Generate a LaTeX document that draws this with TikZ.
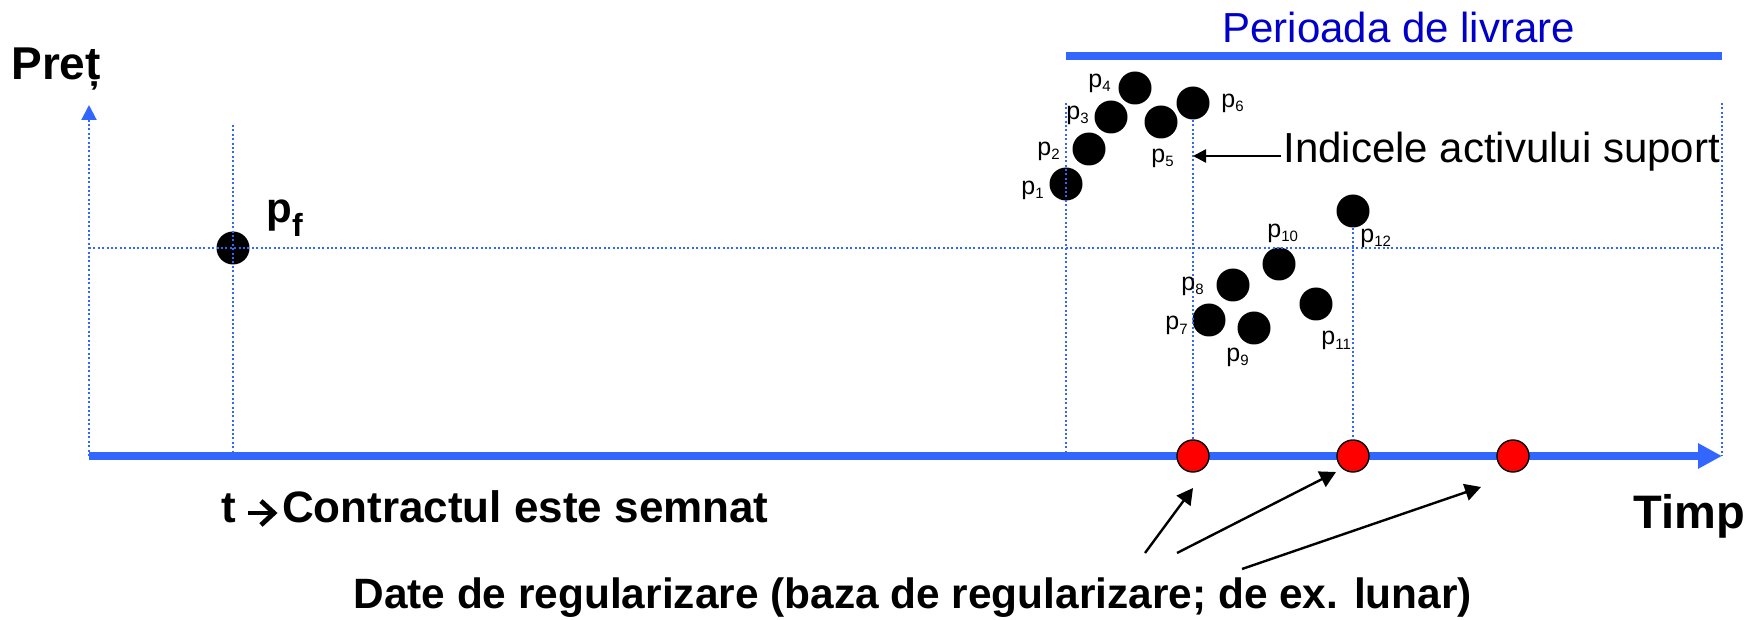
\documentclass[tikz,border=0pt]{standalone}
\usepackage{fontspec}
\setmainfont{Liberation Sans}
\usepackage{xcolor}
\usepackage{tikz}
\usetikzlibrary{arrows.meta,positioning,calc}
\definecolor{axisblue}{RGB}{51,102,255}
\definecolor{titleblue}{RGB}{0,0,200}
\newcommand{\plab}[1]{p\raisebox{-2pt}{\fontsize{7.5}{8}\selectfont #1}}

\begin{document}
\begin{tikzpicture}[x=0.5pt,y=-0.5pt,
    dot/.style={circle,fill=black,inner sep=0pt,minimum size=16.5pt},
    reddot/.style={circle,fill=red,draw=black,line width=0.7pt,inner sep=0pt,minimum size=16pt},
    grid/.style={axisblue,line width=1pt,dash pattern=on 1pt off 1.2pt},
    lab/.style={anchor=base west,inner sep=0pt,font=\fontsize{12.5}{15}\selectfont},
    txt/.style={anchor=base west,inner sep=0pt,font=\fontsize{21}{25}\selectfont},
    big/.style={txt,font=\fontsize{21}{25}\selectfont\bfseries},
    pointer/.style={-{Triangle[length=8pt,width=8.5pt]},line width=1.2pt}]
    \useasboundingbox (0,0) rectangle (1747,620);

    % axes
    \coordinate (O) at (89,456);
    \coordinate (E) at (1722,456);
    \coordinate (Y) at (89,105);
    \draw[axisblue,line width=4pt,-{Triangle[length=12pt,width=12pt]}] (O) -- (E);
    \draw[grid,-{Triangle[length=7.5pt,width=7.5pt]}] (O) -- (Y);
    \node[big,font=\fontsize{23}{28}\selectfont\bfseries] (pret) at (11,80) {Preț};
    \node[txt,font=\fontsize{23.5}{28}\selectfont\bfseries] (timp) at (1633,528) {Timp};

    % delivery period
    \coordinate (L0) at (1066,56);
    \coordinate (L1) at (1722,56);
    \draw[axisblue,line width=4pt] (L0) -- (L1);
    \node[txt,text=titleblue] (per) at (1222,43) {Perioada de livrare};

    % prices
    \node[dot] (pf) at (233,248) {};
    \node[dot] (p1) at (1066,184) {};
    \node[dot] (p2) at (1089,149) {};
    \node[dot] (p3) at (1111,117) {};
    \node[dot] (p4) at (1135,88) {};
    \node[dot] (p5) at (1161,122) {};
    \node[dot] (p6) at (1193,103) {};
    \node[dot] (p7) at (1209,320) {};
    \node[dot] (p8) at (1233,285) {};
    \node[dot] (p9) at (1254,328) {};
    \node[dot] (p10) at (1279,264) {};
    \node[dot] (p11) at (1316,304) {};
    \node[dot] (p12) at (1353,211) {};

    % settlement dates
    \node[reddot] (r1) at (p6 |- O) {};
    \node[reddot] (r2) at (p12 |- O) {};
    \node[reddot] (r3) at (1513,456) {};

    % grid
    \draw[grid] (O |- pf) -- (E |- pf);
    \draw[grid] (233,125) -- (pf |- O);
    \draw[grid] (p1 |- p6) -- (p1 |- O);
    \draw[grid] (p6) -- (r1);
    \draw[grid] (p12) -- (r2);
    \draw[grid] (E |- p6) -- (E);

    % labels
    \node[big] (lf) at (266,223) {p\raisebox{-6.7pt}{\fontsize{16}{16}\selectfont\bfseries f}};
    \node[lab] (l1) at (1021,195) {\plab{1}};
    \node[lab] (l2) at (1037,156) {\plab{2}};
    \node[lab] (l3) at (1066,120) {\plab{3}};
    \node[lab] (l4) at (1088,88) {\plab{4}};
    \node[lab] (l5) at (1151,163) {\plab{5}};
    \node[lab] (l6) at (1221,108) {\plab{6}};
    \node[lab] (l7) at (1165,330) {\plab{7}};
    \node[lab] (l8) at (1181,291) {\plab{8}};
    \node[lab] (l9) at (1226,362) {\plab{9}};
    \node[lab] (l10) at (1267,238) {\plab{10}};
    \node[lab] (l11) at (1321,345) {\plab{11}};
    \node[lab] (l12) at (1360,243) {\plab{12}};

    % underlying index
    \node[txt] (ind) at (1283,163) {Indicele activului suport};
    \draw[-{Triangle[length=6.5pt,width=6.5pt]},line width=1.2pt]
        ([shift={(-1pt,3.5pt)}]ind.base west) -- ([yshift=3.5pt]ind.base west -| p6);

    % bottom texts
    \node[big,font=\fontsize{22}{26}\selectfont\bfseries] (sign) at (221,523) {t\hspace{23pt}Contractul este semnat};
    \draw[line width=2.4pt] ($(sign.base west)+(27,-10)$) -- ++(26,0);
    \draw[line width=2.4pt] ($(sign.base west)+(40,-22)$) -- ++(13,12) -- ++(-13,12);
    \node[big,font=\fontsize{21.2}{25}\selectfont\bfseries] (date) at (353,608) {Date de regularizare (baza de regularizare; de ex. lunar)};
    \coordinate (a1) at (1145,553);
    \coordinate (a2) at (1177,553);
    \coordinate (a3) at (1242,569);
    \coordinate (t1) at (1193,488);
    \coordinate (t2) at (1336,472);
    \coordinate (t3) at (1481,487);
    \draw[pointer] (a1) -- (t1);
    \draw[pointer] (a2) -- (t2);
    \draw[pointer] (a3) -- (t3);
\end{tikzpicture}
\end{document}
